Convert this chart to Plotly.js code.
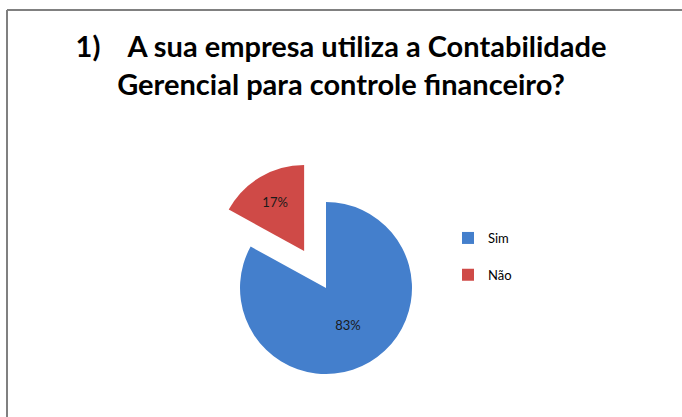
<!DOCTYPE html>
<html>
<head>
<meta charset="utf-8">
<script src="https://cdn.plot.ly/plotly-3.0.1.min.js"></script>
<style>html,body{margin:0;padding:0;background:#fff;}#chart{width:682px;height:417px;}</style>
</head>
<body>
<div id="chart"></div>
<script>
var labels = ["Sim", "Não"];
var values = [83, 17];
var colors = ["#447fcc", "#cf4a47"];
var pulls = [0, 0.5];
var titleLines = ["1)\u00a0\u00a0\u00a0\u00a0A sua empresa utiliza a Contabilidade", "Gerencial para controle financeiro?"];

var W = 682, H = 417, T = 159, B = 0, L = 0, R = 0;
function px2x(px) { return (px - L) / (W - L - R); }
function py2y(py) { return 1 - (py - T) / (H - T - B); }

// legend entries get an extra blank line to reproduce the wide row spacing
var legendLabels = labels.map(function (s) { return s + "<br>\u00a0"; });

var trace = {
  type: "pie",
  labels: legendLabels,
  values: values,
  sort: false,
  direction: "clockwise",
  rotation: 0,
  pull: pulls,
  marker: { colors: colors, line: { width: 0 } },
  textinfo: "percent",
  textposition: "inside",
  insidetextorientation: "horizontal",
  textfont: { family: "Lato, sans-serif", size: 13, color: "#1a1a1a" },
  domain: { x: [px2x(326) - 0.28, px2x(326) + 0.28], y: [0, 1] },
  hoverinfo: "percent"
};

var layout = {
  width: W, height: H,
  margin: { l: L, r: R, t: T, b: B },
  paper_bgcolor: "#fff",
  font: { family: "Lato, sans-serif", color: "#000" },
  title: {
    text: "<b>" + titleLines.join("<br>") + "</b>",
    font: { family: "Lato, sans-serif", size: 29, color: "#000" },
    x: 0.5, xref: "container", xanchor: "center",
    y: 1 - 57 / H, yref: "container", yanchor: "top"
  },
  showlegend: true,
  legend: {
    x: px2x(448), xanchor: "left",
    y: py2y(223), yanchor: "top",
    valign: "top",
    font: { family: "Lato, sans-serif", size: 13, color: "#000" },
    bgcolor: "rgba(0,0,0,0)"
  },
  shapes: [
    { type: "line", xref: "paper", yref: "paper", x0: px2x(7), x1: px2x(682), y0: py2y(10), y1: py2y(10), line: { color: "#808080", width: 2 } },
    { type: "line", xref: "paper", yref: "paper", x0: px2x(7), x1: px2x(7), y0: py2y(10), y1: py2y(417), line: { color: "#808080", width: 2 } }
  ]
};

Plotly.newPlot("chart", [trace], layout, { displayModeBar: false, staticPlot: true });
</script>
</body>
</html>
